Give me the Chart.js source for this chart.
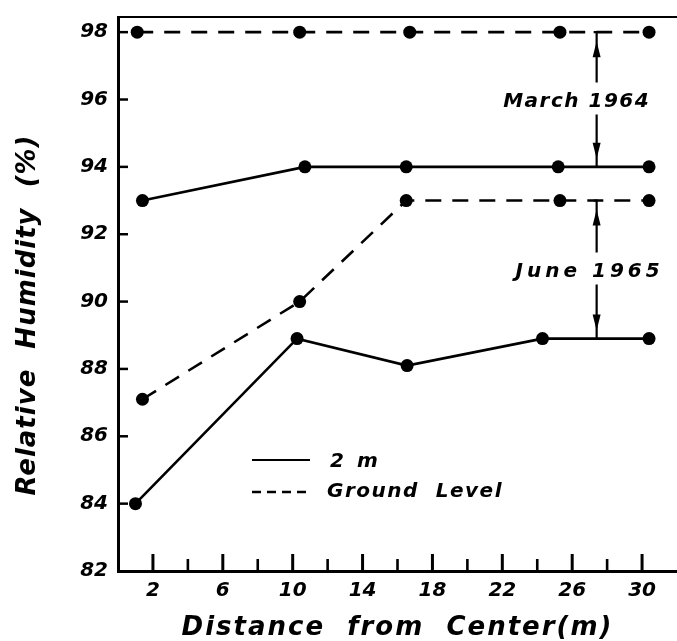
<!DOCTYPE html>
<html>
<head>
<meta charset="utf-8">
<script src="https://cdn.jsdelivr.net/npm/chart.js@4.4.1/dist/chart.umd.min.js"></script>
<style>
  html, body { margin: 0; padding: 0; background: #fff; }
  canvas { display: block; }
</style>
</head>
<body>
<canvas id="rh" width="677" height="641"></canvas>
<script>
// Relative humidity (%) against distance from the centre (m),
// measured 2 m above ground and at ground level, on two survey dates.
const march2mDist      = [1.4, 10.7, 16.5, 25.2, 30.4];
const march2mRH        = [93, 94, 94, 94, 94];
const marchGroundDist  = [1.1, 10.4, 16.7, 25.3, 30.4];
const marchGroundRH    = [98, 98, 98, 98, 98];
const june2mDist       = [1.0, 10.25, 16.55, 24.3, 30.4];
const june2mRH         = [84, 88.9, 88.1, 88.9, 88.9];
const juneGroundDist   = [1.4, 10.4, 16.5, 25.3, 30.4];
const juneGroundRH     = [87.1, 90, 93, 93, 93];

// axis ticks
const xTickValues   = [2, 4, 6, 8, 10, 12, 14, 16, 18, 20, 22, 24, 26, 28, 30];
const xTickLabels   = ['2', '6', '10', '14', '18', '22', '26', '30'];
const yTickValues   = [82, 84, 86, 88, 90, 92, 94, 96, 98];

// date brackets: label, distance, upper and lower humidity
const bracketLabels = ['March 1964', 'June 1965'];
const bracketDist   = [27.4, 27.4];
const bracketTop    = [98, 93];
const bracketBottom = [94, 88.9];

const FONT = '"DejaVu Sans", "Liberation Sans", sans-serif';

function pairs(xs, ys) { return xs.map((x, i) => ({ x: x, y: ys[i] })); }

function series(label, xs, ys, dashed) {
  return {
    label: label,
    data: pairs(xs, ys),
    showLine: true,
    borderColor: '#000',
    backgroundColor: '#000',
    borderWidth: 2.6,
    borderDash: dashed ? [16, 11] : [],
    pointRadius: 6.5,
    pointBackgroundColor: '#000',
    pointBorderWidth: 0,
    tension: 0,
    clip: false
  };
}

// inward tick marks and the upper frame line
const frameTicks = {
  id: 'frameTicks',
  beforeDatasetsDraw(chart) {
    const { ctx, chartArea: a, scales: { x, y } } = chart;
    ctx.save();
    ctx.strokeStyle = '#000';
    ctx.lineCap = 'butt';
    ctx.lineWidth = 2.5;
    yTickValues.slice(1).forEach(v => {
      const py = y.getPixelForValue(v);
      ctx.beginPath();
      ctx.moveTo(a.left, py);
      ctx.lineTo(a.left + 10, py);
      ctx.stroke();
    });
    xTickValues.forEach(v => {
      const px = x.getPixelForValue(v);
      const major = xTickLabels.includes(String(v));
      ctx.lineWidth = major ? 3 : 2.6;
      ctx.beginPath();
      ctx.moveTo(px, a.bottom);
      ctx.lineTo(px, a.bottom - (major ? 17 : 12));
      ctx.stroke();
    });
    ctx.lineWidth = 2.2;
    ctx.beginPath();
    ctx.moveTo(a.left - 1, a.top);
    ctx.lineTo(a.right, a.top);
    ctx.stroke();
    ctx.restore();
  }
};

function arrowHead(ctx, x, tipY, dir) {
  // dir = -1 points up, +1 points down
  ctx.beginPath();
  ctx.moveTo(x, tipY);
  ctx.lineTo(x - 4, tipY - dir * 16);
  ctx.lineTo(x + 4, tipY - dir * 16);
  ctx.closePath();
  ctx.fill();
}

// titles, key and the date brackets
const labelsLayer = {
  id: 'labelsLayer',
  afterDraw(chart) {
    const { ctx, chartArea: a, scales: { x, y } } = chart;
    ctx.save();
    ctx.fillStyle = '#000';
    ctx.strokeStyle = '#000';

    // x axis title
    ctx.font = 'italic bold 26px ' + FONT;
    ctx.letterSpacing = '2px';
    ctx.textAlign = 'center';
    ctx.textBaseline = 'alphabetic';
    ctx.fillText('Distance  from  Center(m)', (a.left + a.right) / 2, 635);

    // y axis title
    ctx.save();
    ctx.translate(35, 315);
    ctx.rotate(-Math.PI / 2);
    ctx.letterSpacing = '1px';
    ctx.fillText('Relative  Humidity  (%)', 0, 0);
    ctx.restore();

    // key
    ctx.lineWidth = 1.8;
    ctx.beginPath();
    ctx.moveTo(252, 460);
    ctx.lineTo(310, 460);
    ctx.stroke();
    ctx.lineWidth = 2.4;
    ctx.setLineDash([9, 6]);
    ctx.beginPath();
    ctx.moveTo(252, 492);
    ctx.lineTo(312, 492);
    ctx.stroke();
    ctx.setLineDash([]);
    ctx.font = 'italic bold 20px ' + FONT;
    ctx.textAlign = 'left';
    ctx.letterSpacing = '3px';
    ctx.fillText('2 m', 330, 467);
    ctx.letterSpacing = '1.5px';
    ctx.fillText('Ground  Level', 327, 497);

    // date brackets with arrows
    const textShift = [-20, -7];
    const textSpacing = ['1.5px', '4px'];
    bracketLabels.forEach((lab, i) => {
      const px = x.getPixelForValue(bracketDist[i]);
      const yTop = y.getPixelForValue(bracketTop[i]);
      const yBot = y.getPixelForValue(bracketBottom[i]);
      const mid = (yTop + yBot) / 2;
      ctx.lineWidth = 2.2;
      ctx.beginPath();
      ctx.moveTo(px - 3, yTop);
      ctx.lineTo(px, yTop);
      ctx.lineTo(px, mid - 17);
      ctx.moveTo(px, mid + 15);
      ctx.lineTo(px, yBot);
      ctx.stroke();
      arrowHead(ctx, px, yTop + 9, -1);
      arrowHead(ctx, px, yBot - 8, 1);
      ctx.font = 'italic bold 20px ' + FONT;
      ctx.letterSpacing = textSpacing[i];
      ctx.textAlign = 'center';
      ctx.fillText(lab, px + textShift[i], mid + 7);
    });
    ctx.restore();
  }
};

new Chart(document.getElementById('rh'), {
  type: 'scatter',
  data: {
    datasets: [
      series('2 m, March 1964', march2mDist, march2mRH, false),
      series('Ground Level, March 1964', marchGroundDist, marchGroundRH, true),
      series('2 m, June 1965', june2mDist, june2mRH, false),
      series('Ground Level, June 1965', juneGroundDist, juneGroundRH, true)
    ]
  },
  options: {
    responsive: false,
    animation: false,
    layout: { autoPadding: false, padding: { top: 17, right: 0, bottom: 0, left: 0 } },
    plugins: { legend: { display: false }, tooltip: { enabled: false }, title: { display: false } },
    scales: {
      x: {
        type: 'linear',
        min: 0,
        max: 32,
        afterBuildTicks: s => { s.ticks = xTickValues.map(v => ({ value: v })); },
        afterFit: s => { s.height = 70; s.paddingLeft = 0; s.paddingRight = 0; },
        grid: { display: true, drawOnChartArea: false, drawTicks: false, color: 'rgba(0,0,0,0)' },
        border: { display: true, color: '#000', width: 3 },
        ticks: {
          autoSkip: false,
          maxRotation: 0,
          padding: 8,
          color: '#000',
          font: { family: FONT, size: 20, style: 'italic', weight: 'bold' },
          callback: v => (xTickLabels.includes(String(v)) ? String(v) : '')
        }
      },
      y: {
        type: 'linear',
        min: 82,
        max: 98.45,
        afterBuildTicks: s => { s.ticks = yTickValues.map(v => ({ value: v })); },
        afterFit: s => { s.width = 118; s.paddingTop = 0; s.paddingBottom = 0; },
        grid: { display: true, drawOnChartArea: false, drawTicks: false, color: 'rgba(0,0,0,0)' },
        border: { display: true, color: '#000', width: 3 },
        ticks: {
          padding: 10,
          color: '#000',
          font: { family: FONT, size: 20, style: 'italic', weight: 'bold' },
          callback: v => String(v)
        }
      }
    }
  },
  plugins: [frameTicks, labelsLayer]
});
</script>
</body>
</html>
